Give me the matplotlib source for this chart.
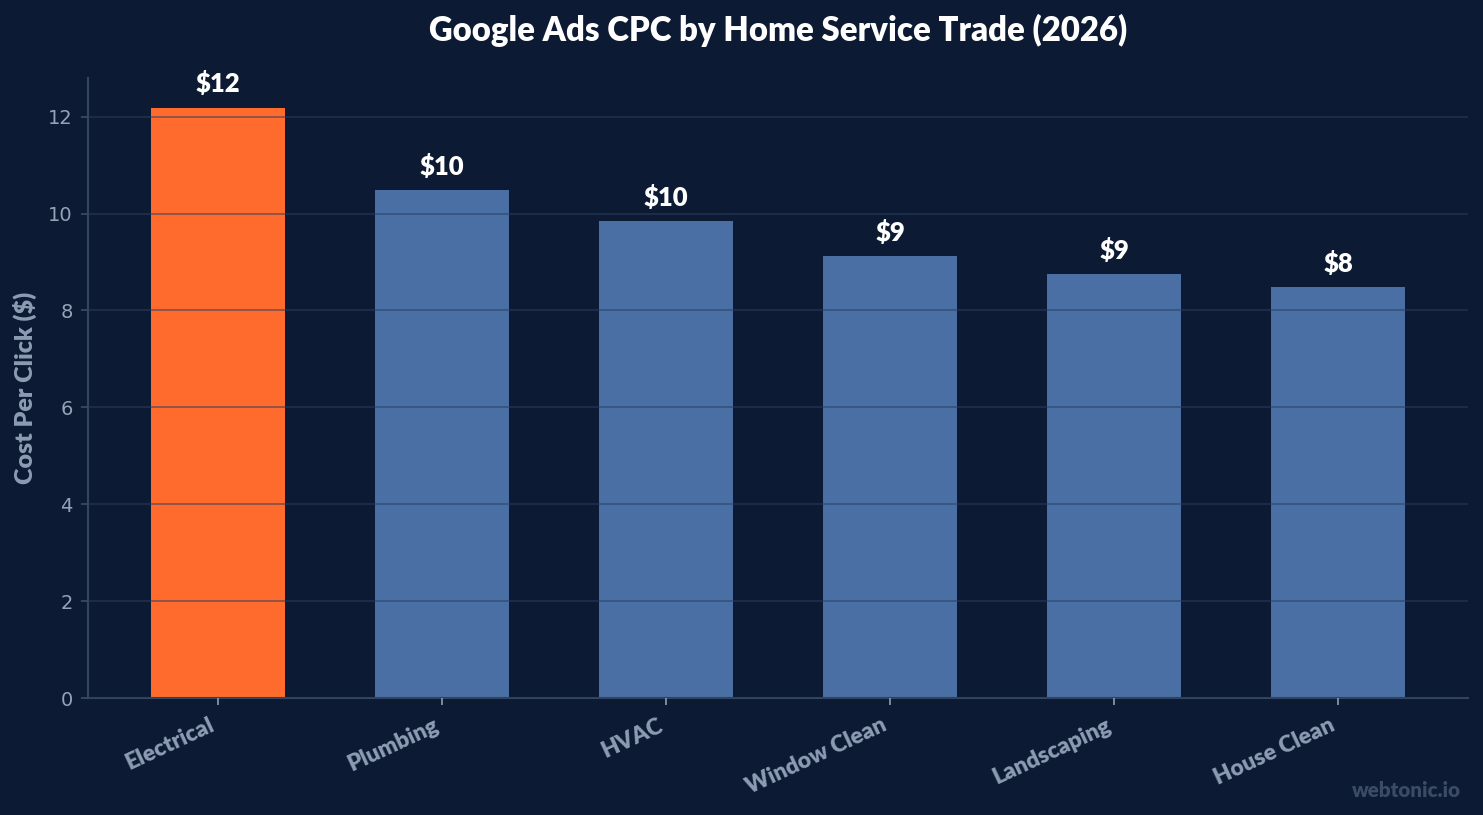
import matplotlib
matplotlib.use("Agg")
import matplotlib.pyplot as plt

categories = ["Electrical", "Plumbing", "HVAC", "Window Clean", "Landscaping", "House Clean"]
cpc = [12.19, 10.49, 9.85, 9.13, 8.76, 8.48]
yticks = [0, 2, 4, 6, 8, 10, 12]

BG = "#0c1b33"
ORANGE = "#ff6b2c"
BLUE = "#4a6fa5"
TICK = "#94a3b8"
LAB = "#8c9db3"

fig = plt.figure(figsize=(14.83, 8.15), dpi=100, facecolor=BG)
ax = fig.add_axes([88/1483, 117/815, 1380/1483, 620/815])
ax.set_facecolor(BG)

colors = [ORANGE] + [BLUE] * (len(categories) - 1)
x = list(range(len(categories)))
ax.bar(x, cpc, width=0.6, color=colors, zorder=2)

for xi, v in zip(x, cpc):
    ax.annotate(f"${v:.0f}", (xi, v), xytext=(0, 8), textcoords="offset points",
                ha="center", va="bottom", color="white", fontsize=18.5,
                fontweight="heavy", family="Lato")

ax.set_yticks(yticks)
ax.set_xticks(x)
ax.set_xticklabels(categories, rotation=25, ha="right",
                   family="Lato", fontweight="heavy", fontsize=16.5, color=LAB)
for lab in ax.get_yticklabels():
    lab.set_color(TICK)
    lab.set_fontsize(14)
ax.tick_params(axis="y", colors="#3d4d66", labelcolor=TICK, length=5, width=1.2, pad=6)
ax.tick_params(axis="x", colors=LAB, length=5, width=1.2, pad=7)

ax.set_ylabel("Cost Per Click ($)", family="Lato", fontweight="heavy", fontsize=18,
              color=LAB, labelpad=8)

ax.grid(axis="y", color="#2a3e5e", alpha=0.6, linewidth=1.2, zorder=3)
ax.set_axisbelow(False)

for s in ["top", "right"]:
    ax.spines[s].set_visible(False)
for s in ["left", "bottom"]:
    ax.spines[s].set_color("#334660")
    ax.spines[s].set_linewidth(1.5)

fig.text(778/1483, 1 - 30/815, "Google Ads CPC by Home Service Trade (2026)", ha="center",
         va="center", color="white", fontsize=23.7, fontweight="heavy", family="Lato")

fig.text(0.985, 0.03, "webtonic.io", ha="right", va="center", color="#3a4b66",
         fontsize=14.8, fontweight="heavy", family="Lato")

fig.savefig("out.png", dpi=100, facecolor=BG)
